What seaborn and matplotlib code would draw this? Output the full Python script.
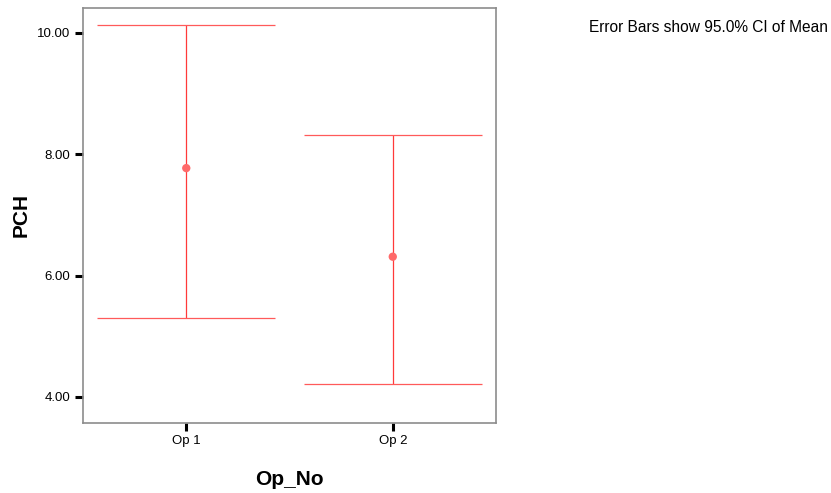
"""
Error bar chart: mean PCH with 95% CI by Op_No.
"""
import matplotlib

matplotlib.use("Agg")
import matplotlib.pyplot as plt
import pandas as pd
import seaborn as sns

# data
groups = ["Op 1", "Op 2"]
means = [7.77, 6.31]
ci_lower = [5.30, 4.21]
ci_upper = [10.13, 8.32]
y_ticks = [4.0, 6.0, 8.0, 10.0]

df = pd.DataFrame({"Op_No": groups, "PCH": means, "lo": ci_lower, "hi": ci_upper})

sns.set_style("white")
plt.rcParams["font.family"] = ["Liberation Sans", "DejaVu Sans"]
plt.rcParams["text.color"] = "black"
plt.rcParams["axes.labelcolor"] = "black"
plt.rcParams["xtick.color"] = "black"
plt.rcParams["ytick.color"] = "black"

fig = plt.figure(figsize=(8.31, 4.93), dpi=100)
ax = fig.add_axes([0.0999, 0.142, 0.497, 0.842])

xpos = list(range(len(groups)))
half = 0.43

# error bars: whiskers and caps
ax.vlines(xpos, df["lo"], df["hi"], color="#ff3a3a", lw=0.9, zorder=2)
ax.hlines(df["hi"], [x - half for x in xpos], [x + half for x in xpos],
          color="#ff5a5a", lw=0.9, zorder=2)
ax.hlines(df["lo"], [x - half for x in xpos], [x + half for x in xpos],
          color="#ff5a5a", lw=0.9, zorder=2)

# means
sns.scatterplot(x=xpos, y=df["PCH"], ax=ax, color="#ff6a6a", s=36,
                edgecolor="none", zorder=3, legend=False)

ax.set_xlim(-0.5, 1.5)
ax.set_ylim(3.57, 10.41)
ax.set_xticks(xpos)
ax.set_xticklabels(groups, fontsize=9.5)
ax.set_yticks(y_ticks)
ax.set_yticklabels([f"{t:.2f}" for t in y_ticks], fontsize=9.5)
ax.tick_params(axis="both", direction="out", length=6, width=2.2,
               color="black", labelcolor="black", pad=3, bottom=True, left=True)

for s in ax.spines.values():
    s.set_color("#8c8c8c")
    s.set_linewidth(1.2)

ax.set_xlabel("Op_No", fontsize=15, fontweight="bold", labelpad=16)
ax.set_ylabel("PCH", fontsize=15, fontweight="bold")
ax.yaxis.set_label_coords(-0.127, 0.5)

fig.text(0.709, 0.945, "Error Bars show 95.0% CI of Mean", fontsize=11.2,
         ha="left", va="center")

plt.savefig("out.png", dpi=100)
